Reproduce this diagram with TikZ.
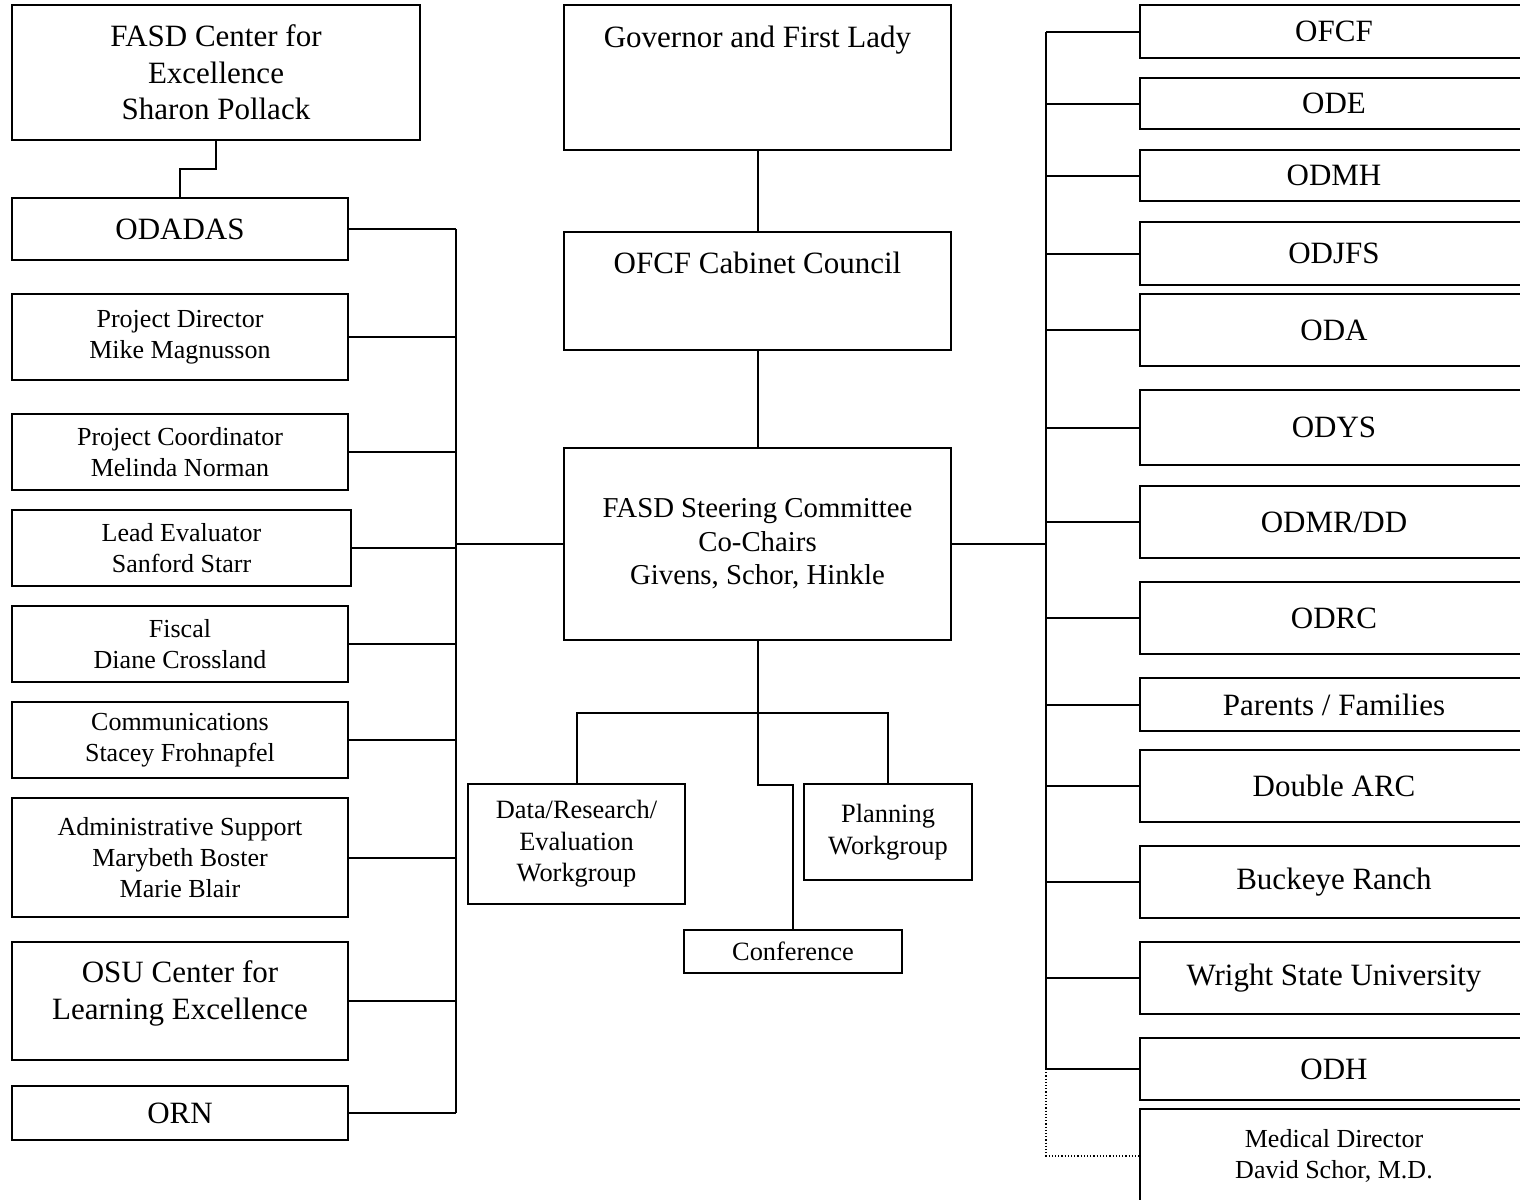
\documentclass[tikz,border=0pt]{standalone}
\usepackage{fontspec}
\setmainfont{Liberation Serif}

\tikzset{
  orgbox/.style={draw, line width=1pt, align=center, inner sep=0pt},
  bigtxt/.style={font=\fontsize{15.5}{18.25}\selectfont},
  midtxt/.style={font=\fontsize{14.4}{16.75}\selectfont},
  smalltxt/.style={font=\fontsize{13}{15.5}\selectfont},
  wgtxt/.style={font=\fontsize{13.2}{15.75}\selectfont},
  wire/.style={line width=1pt},
  leftbox/.style={orgbox, minimum width=168pt},
  rightbox/.style={orgbox, bigtxt, minimum width=194pt},
}

\begin{document}
\begin{tikzpicture}[x=0.5pt,y=-0.5pt]
\useasboundingbox (0,0) rectangle (1520,1199);

% left column
\node[orgbox, bigtxt, minimum width=204pt, minimum height=67.5pt] (fasd) at (216,72.5) {FASD Center for\\Excellence\\Sharon Pollack};
\node[leftbox, bigtxt, minimum height=31pt] (odadas) at (180,229) {ODADAS};
\node[leftbox, smalltxt, minimum height=43pt] (pdir) at (180,337) {Project Director\\Mike Magnusson};
\node[leftbox, smalltxt, minimum height=38pt] (pcoord) at (180,452) {Project Coordinator\\Melinda Norman};
\node[leftbox, smalltxt, minimum width=169.5pt, minimum height=38pt] (leval) at (181.5,548) {Lead Evaluator\\Sanford Starr};
\node[leftbox, smalltxt, minimum height=38pt] (fiscal) at (180,644) {Fiscal\\Diane Crossland};
\node[leftbox, smalltxt, minimum height=38pt] (comm) at (180,740) {Communications\\Stacey Frohnapfel};
\node[leftbox, smalltxt, minimum height=59.5pt] (admin) at (180,857.5) {Administrative Support\\Marybeth Boster\\Marie Blair};
\node[leftbox, bigtxt, text height=38.5pt, text depth=20.5pt] (osu) at (180,1001) {OSU Center for\\Learning Excellence};
\node[leftbox, bigtxt, minimum height=27pt] (orn) at (180,1113) {ORN};

% middle column
\node[orgbox, bigtxt, minimum width=193.5pt, text height=21pt, text depth=51.5pt] (gov) at (757.5,77.5) {Governor and First Lady};
\node[orgbox, bigtxt, minimum width=193.5pt, text height=20.5pt, text depth=38.5pt] (cab) at (757.5,291) {OFCF Cabinet Council};
\node[orgbox, midtxt, minimum width=193.5pt, minimum height=96pt] (steer) at (757.5,544) {FASD Steering Committee\\Co-Chairs\\Givens, Schor, Hinkle};
\node[orgbox, wgtxt, minimum width=108.5pt, minimum height=60pt] (data) at (576.5,844) {Data/Research/\\Evaluation\\Workgroup};
\node[orgbox, wgtxt, minimum width=84pt, minimum height=48pt] (plan) at (888,832) {Planning\\Workgroup};
\node[orgbox, wgtxt, minimum width=109pt, minimum height=21.5pt] (conf) at (793,951.5) {Conference};

% right column
\node[rightbox, minimum height=26.5pt] (ofcf) at (1334,31.5) {OFCF};
\node[rightbox, minimum height=25.5pt] (ode) at (1334,103.5) {ODE};
\node[rightbox, minimum height=25.5pt] (odmh) at (1334,175.5) {ODMH};
\node[rightbox, minimum height=31.5pt] (odjfs) at (1334,253.5) {ODJFS};
\node[rightbox, minimum height=36pt] (oda) at (1334,330) {ODA};
\node[rightbox, minimum height=37.5pt] (odys) at (1334,427.5) {ODYS};
\node[rightbox, minimum height=36pt] (odmr) at (1334,522) {ODMR/DD};
\node[rightbox, minimum height=36pt] (odrc) at (1334,618) {ODRC};
\node[rightbox, minimum height=26.5pt] (parents) at (1334,704.5) {Parents / Families};
\node[rightbox, minimum height=36pt] (darc) at (1334,786) {Double ARC};
\node[rightbox, minimum height=36pt] (buck) at (1334,882) {Buckeye Ranch};
\node[rightbox, minimum height=36pt] (wsu) at (1334,978) {Wright State University};
\node[rightbox, minimum height=31pt] (odh) at (1334,1069) {ODH};
\node[orgbox, smalltxt, minimum width=194pt, minimum height=47pt] (med) at (1334,1156) {Medical Director\\David Schor, M.D.};

\coordinate (lbus) at (456,0);
\coordinate (rbus) at (1046,0);

% connectors
\draw[wire] (fasd.south) -- ++(0,28) -| (odadas.north);
\foreach \b in {odadas,pdir,pcoord,leval,fiscal,comm,admin,osu,orn}
  \draw[wire] (\b.east) -- (\b.east -| lbus);
\draw[wire] (odadas.east -| lbus) -- (orn.east -| lbus);
\draw[wire] (lbus |- steer.west) -- (steer.west);

\draw[wire] (gov.south) -- (cab.north);
\draw[wire] (cab.south) -- (steer.north);
\draw[wire] (steer.south) -- ++(0,72) coordinate (split);
\draw[wire] (data.north) |- (plan.north |- split) -- (plan.north);
\draw[wire] (split) -- ++(0,72) -| (conf.north);

\foreach \b in {ofcf,ode,odmh,odjfs,oda,odys,odmr,odrc,parents,darc,buck,wsu,odh}
  \draw[wire] (\b.west) -- (\b.west -| rbus);
\draw[wire] (ofcf.west -| rbus) -- (odh.west -| rbus);
\draw[wire] (steer.east) -- (steer.east -| rbus);
\draw[densely dotted, line width=0.6pt] (odh.west -| rbus) |- (med.west);
\end{tikzpicture}
\end{document}
